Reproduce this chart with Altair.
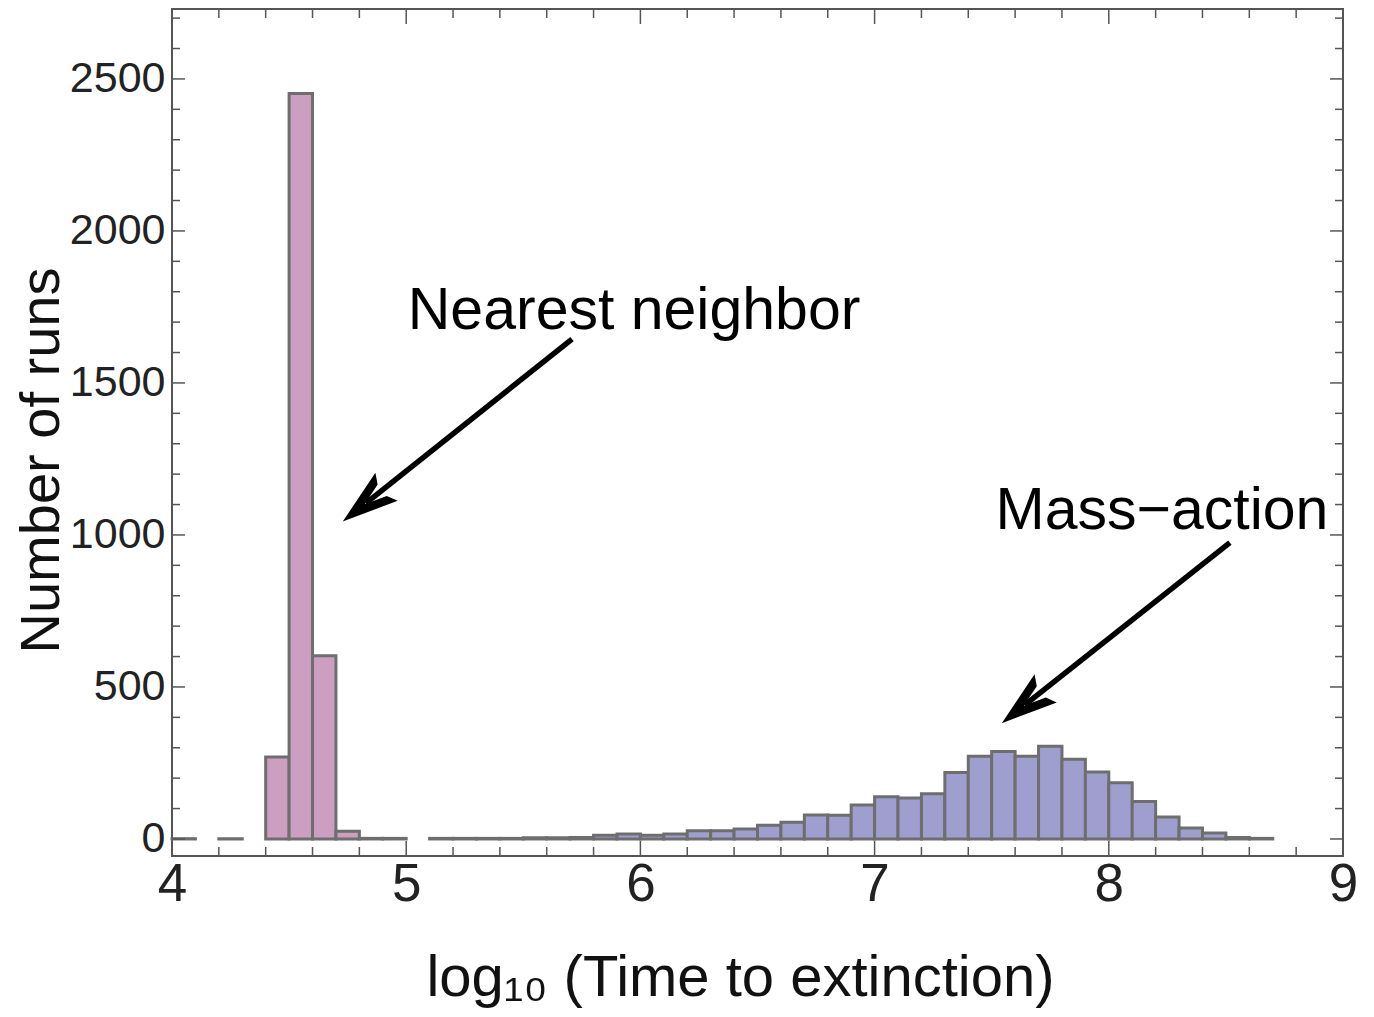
import math
import altair as alt
import pandas as pd

# ---------------- data ----------------
nn_bin_start = [4.0, 4.2, 4.4, 4.5, 4.6, 4.7, 4.8, 4.9]
nn_counts = [1, 1, 270, 2452, 603, 25, 2, 2]

ma_bin_start = [5.1, 5.2, 5.3, 5.4, 5.5, 5.6, 5.7, 5.8, 5.9, 6.0, 6.1, 6.2,
                6.3, 6.4, 6.5, 6.6, 6.7, 6.8, 6.9, 7.0, 7.1, 7.2, 7.3, 7.4,
                7.5, 7.6, 7.7, 7.8, 7.9, 8.0, 8.1, 8.2, 8.3, 8.4, 8.5, 8.6]
ma_counts = [2, 2, 2, 2, 4, 4, 5, 12, 16, 12, 16, 27,
             27, 33, 45, 55, 79, 78, 112, 139, 135, 149, 219, 272,
             288, 272, 305, 262, 220, 185, 123, 72, 36, 20, 5, 2]
bin_width = 0.1

series_names = ["Nearest neighbor", "Mass-action"]
series_colors = ["#cc9ebf", "#9f9fcf"]

x_tick_labels = [4, 5, 6, 7, 8, 9]
y_tick_labels = [0, 500, 1000, 1500, 2000, 2500]
x_minor_ticks = [4.2, 4.4, 4.6, 4.8, 5.2, 5.4, 5.6, 5.8, 6.2, 6.4, 6.6, 6.8,
                 7.2, 7.4, 7.6, 7.8, 8.2, 8.4, 8.6, 8.8]
x_major_ticks = [5, 6, 7, 8]
y_major_ticks = [0, 500, 1000, 1500, 2000, 2500]
y_minor_ticks = [100, 200, 300, 400, 600, 700, 800, 900, 1100, 1200, 1300, 1400,
                 1600, 1700, 1800, 1900, 2100, 2200, 2300, 2400, 2600, 2700]

labels_text = ["Nearest neighbor", "Mass\u2212action"]
labels_x = [5.973, 8.227]
labels_y = [1678, 1018]

arrow_start_x = [5.708, 8.517]
arrow_start_y = [1644, 975]
arrow_tip_x = [4.729, 7.543]
arrow_tip_y = [1044, 381]

# ---------------- layout ----------------
W, H = 1171, 847
X_DOM = [4, 9]
Y_DOM = [-56, 2730]
FONT = "Liberation Sans, Arial, Helvetica, sans-serif"

xs = alt.Scale(domain=X_DOM, nice=False, zero=False)
ys = alt.Scale(domain=Y_DOM, nice=False, zero=False)

rows = []
for s, c in zip(nn_bin_start, nn_counts):
    rows.append({"x0": s, "x1": round(s + bin_width, 2), "count": c, "series": series_names[0]})
for s, c in zip(ma_bin_start, ma_counts):
    rows.append({"x0": s, "x1": round(s + bin_width, 2), "count": c, "series": series_names[1]})
df_bars = pd.DataFrame(rows)

x_axis = alt.Axis(values=x_tick_labels, format="d", tickSize=0, domain=False, grid=False,
                  labelFontSize=53, labelFont=FONT, labelColor="#222222", labelPadding=2,
                  labelFlush=False, labelOverlap=False,
                  title="log\u2081\u2080 (Time to extinction)", titleFont=FONT, titleFontSize=58,
                  titleFontWeight="normal", titleColor="#111111",
                  titleX=568, titleY=139, titleAlign="center", titleBaseline="alphabetic")
y_axis = alt.Axis(values=y_tick_labels, format="d", tickSize=0, domain=False, grid=False,
                  labelFontSize=43, labelFont=FONT, labelColor="#222222", labelPadding=7,
                  labelFlush=False, labelOverlap=False,
                  title="Number of runs", titleFont=FONT, titleFontSize=56,
                  titleFontWeight="normal", titleColor="#111111",
                  titleX=-114, titleY=451, titleAngle=270, titleAlign="center",
                  titleBaseline="alphabetic")


def X(field):
    return alt.X(field, scale=xs, axis=x_axis)


def Y(field):
    return alt.Y(field, scale=ys, axis=y_axis)


bars = alt.Chart(df_bars).mark_bar(stroke="#6e6e6e", strokeWidth=3, strokeJoin="miter").encode(
    x=X("x0:Q"),
    x2="x1:Q",
    y=Y("count:Q"),
    y2=alt.datum(0),
    color=alt.Color("series:N", scale=alt.Scale(domain=series_names, range=series_colors), legend=None),
)

TICK = "#555555"


def xticks(vals, length):
    d = pd.DataFrame({"v": vals})
    bot = alt.Chart(d).mark_rule(color=TICK, strokeWidth=1.5).encode(
        x=X("v:Q"), y=alt.value(H), y2=alt.value(H - length))
    top = alt.Chart(d).mark_rule(color=TICK, strokeWidth=1.5).encode(
        x=X("v:Q"), y=alt.value(0), y2=alt.value(length))
    return [bot, top]


def yticks(vals, length):
    d = pd.DataFrame({"v": vals})
    left = alt.Chart(d).mark_rule(color=TICK, strokeWidth=1.5).encode(
        y=Y("v:Q"), x=alt.value(0), x2=alt.value(length))
    right = alt.Chart(d).mark_rule(color=TICK, strokeWidth=1.5).encode(
        y=Y("v:Q"), x=alt.value(W), x2=alt.value(W - length))
    return [left, right]


tick_layers = xticks(x_minor_ticks, 9) + xticks(x_major_ticks, 15) + \
    yticks(y_minor_ticks, 8) + yticks(y_major_ticks, 13)

df_text = pd.DataFrame({"t": labels_text, "x": labels_x, "y": labels_y})
texts = alt.Chart(df_text).mark_text(font=FONT, fontSize=59, align="center",
                                     baseline="alphabetic", color="black").encode(
    x=X("x:Q"), y=Y("y:Q"), text="t:N")

# arrows: shaft ends a little before the tip, hidden under the head
px_per_x = W / (X_DOM[1] - X_DOM[0])
px_per_y = H / (Y_DOM[1] - Y_DOM[0])
arows = []
for sx, sy, tx, ty in zip(arrow_start_x, arrow_start_y, arrow_tip_x, arrow_tip_y):
    ex = tx + 0.1 * (sx - tx)
    ey = ty + 0.1 * (sy - ty)
    dxp = (tx - sx) * px_per_x
    dyp = -(ty - sy) * px_per_y
    ang = math.degrees(math.atan2(dyp, dxp)) % 360
    arows.append({"sx": sx, "sy": sy, "ex": ex, "ey": ey, "tx": tx, "ty": ty, "ang": ang})
df_arr = pd.DataFrame(arows)

shafts = alt.Chart(df_arr).mark_rule(color="black", strokeWidth=5.5, strokeCap="butt").encode(
    x=X("sx:Q"), y=Y("sy:Q"), x2="ex:Q", y2="ey:Q")

HEAD = "M0,0L-1,-0.32L-0.9,-0.13L-0.5,0L-0.9,0.13L-1,0.32Z"
heads = alt.Chart(df_arr).mark_point(shape=HEAD, size=12544, filled=True, color="black",
                                     opacity=1, strokeWidth=0).encode(
    x=X("tx:Q"), y=Y("ty:Q"),
    angle=alt.Angle("ang:Q", scale=None))

chart = alt.layer(bars, *tick_layers, texts, shafts, heads).properties(
    width=W, height=H,
    autosize=alt.AutoSizeParams(type="none"),
    padding={"left": 164, "top": 1, "right": 20, "bottom": 152},
    background="white",
).configure_view(stroke="#555555", strokeWidth=2)

chart.save("out.html", embed_options={"renderer": "svg", "actions": False})
